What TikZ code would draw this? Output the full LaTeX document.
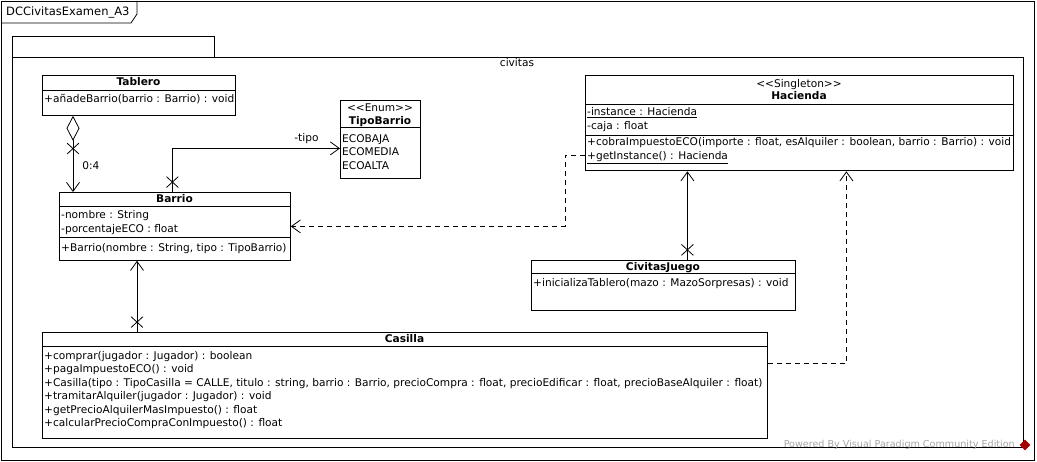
\documentclass[tikz,border=0pt]{standalone}
\usepackage{fontspec}
\setmainfont{DejaVu Sans}
\usepackage{tikz}
\usetikzlibrary{arrows.meta, positioning, shapes.misc, shapes.geometric, calc}
\newcommand{\umlfont}{\fontsize{10.6}{13.5}\selectfont}
\tikzstyle{frame} = [draw=black, line width=0.8pt]
\tikzstyle{classbox} = [rectangle, draw=black, line width=0.8pt, anchor=north west, inner sep=0pt]
\tikzstyle{classname} = [font=\umlfont\bfseries, inner sep=0pt, text height=8pt, text depth=2pt]
\tikzstyle{stereo} = [font=\umlfont, inner sep=0pt, text height=8pt, text depth=2pt]
\tikzstyle{members} = [font=\umlfont, anchor=west, inner sep=0pt, align=left]
\tikzstyle{crossmark} = [draw, cross out, minimum width=11pt, minimum height=10pt, inner sep=0pt, line width=0.8pt]
\tikzstyle{assoc} = [line width=0.8pt, -{Straight Barb[length=9pt,width=13pt]}]
\tikzstyle{aggr} = [line width=0.8pt, {Diamond[open,length=25pt,width=13pt]}-{Straight Barb[length=9pt,width=13pt]}]
\tikzstyle{dep} = [assoc, dash pattern=on 5pt off 4pt]
\begin{document}
\begin{tikzpicture}[x=1pt, y=-1pt]
\useasboundingbox (0,0) rectangle (1037,462);
% diagram frame and package
\draw[frame] (1,1) rectangle (1034,460);
\draw[frame] (1,23) -- (131,23) -- (137,14) -- (137,1);
\node[font=\fontsize{11.5}{14}\selectfont, anchor=west, inner sep=0pt] (frame-title) at (6,12) {DCCivitasExamen\_A3};
\draw[frame] (12,57) rectangle (1023,447);
\draw[frame] (12,57) -- (12,36) -- (214,36) -- (214,57);
\node[font=\umlfont, inner sep=0pt] (pkg-title) at (517,63) {civitas};

% classes
\node[classbox, minimum width=193pt, minimum height=40pt] (tablero) at (42,75) {};
\node[classbox, minimum width=80pt, minimum height=78pt] (tipobarrio) at (340,100) {};
\node[classbox, minimum width=231pt, minimum height=68pt] (barrio) at (59,192) {};
\node[classbox, minimum width=428pt, minimum height=95.5pt] (hacienda) at (585,75) {};
\node[classbox, minimum width=264pt, minimum height=50pt] (civitasjuego) at (531,260) {};
\node[classbox, minimum width=725pt, minimum height=106pt] (casilla) at (42,332) {};

% compartments
\draw[line width=0.8pt] ([yshift=-15pt]tablero.north west) -- ([yshift=-15pt]tablero.north east);
\draw[line width=0.8pt] ([yshift=-27pt]tipobarrio.north west) -- ([yshift=-27pt]tipobarrio.north east);
\draw[line width=0.8pt] ([yshift=-14.5pt]barrio.north west) -- ([yshift=-14.5pt]barrio.north east);
\draw[line width=0.8pt] ([yshift=-45pt]barrio.north west) -- ([yshift=-45pt]barrio.north east);
\draw[line width=0.8pt] ([yshift=-29.5pt]hacienda.north west) -- ([yshift=-29.5pt]hacienda.north east);
\draw[line width=0.8pt] ([yshift=-60.5pt]hacienda.north west) -- ([yshift=-60.5pt]hacienda.north east);
\draw[line width=0.8pt] ([yshift=-13pt]civitasjuego.north west) -- ([yshift=-13pt]civitasjuego.north east);
\draw[line width=0.8pt] ([yshift=-14pt]casilla.north west) -- ([yshift=-14pt]casilla.north east);

% texts
\node[classname] (tablero-name) at (138.5,83) {Tablero};
\node[members] (tablero-ops) at (44,99) {+añadeBarrio(barrio : Barrio) : void};

\node[stereo] (tipobarrio-st) at (380,109) {<{}<Enum>{}>};
\node[classname] (tipobarrio-name) at (380,122) {TipoBarrio};
\node[members] (tipobarrio-lit) at (342,152) {ECOBAJA\\ECOMEDIA\\ECOALTA};

\node[classname] (barrio-name) at (174.5,200) {Barrio};
\node[members] (barrio-attr) at (61,222.5) {-nombre : String\\-porcentajeECO : float};
\node[members] (barrio-ops) at (61,249) {+Barrio(nombre : String, tipo : TipoBarrio)};

\node[stereo] (hacienda-st) at (799,84.5) {<{}<Singleton>{}>};
\node[classname] (hacienda-name) at (799,97) {Hacienda};
\node[members] (hacienda-attr) at (587,119.5) {\underline{-instance : Hacienda}\\-caja : float};
\node[members] (hacienda-ops) at (587,150.5) {+cobraImpuestoECO(importe : float, esAlquiler : boolean, barrio : Barrio) : void\\\underline{+getInstance() : Hacienda}};

\node[classname] (civitasjuego-name) at (663,267.5) {CivitasJuego};
\node[members] (civitasjuego-ops) at (533,284) {+inicializaTablero(mazo : MazoSorpresas) : void};

\node[classname] (casilla-name) at (404.5,340) {Casilla};
\node[members] (casilla-ops) at (44,390) {+comprar(jugador : Jugador) : boolean\\
+pagaImpuestoECO() : void\\
+Casilla(tipo : TipoCasilla = CALLE, titulo : string, barrio : Barrio, precioCompra : float, precioEdificar : float, precioBaseAlquiler : float)\\
+tramitarAlquiler(jugador : Jugador) : void\\
+getPrecioAlquilerMasImpuesto() : float\\
+calcularPrecioCompraConImpuesto() : float};

% relations
\draw[aggr] ([xshift=31pt]tablero.south west) -- ([xshift=14pt]barrio.north west)
    node[crossmark, pos=0.43] (x-tablero) {}
    node[pos=0.66, right=9pt, font=\umlfont, inner sep=0pt] (m-tablero) {0:4};
\draw[assoc] ([xshift=-2.5pt]barrio.north) |- ([yshift=-9pt]tipobarrio.west)
    node[crossmark, pos=0.114] (x-tipo) {}
    node[pos=0.9, above=4pt, font=\umlfont, inner sep=0pt] (r-tipo) {-tipo};
\draw[dep] ([yshift=-32.25pt]hacienda.west) -- ++(-20,0) |- (barrio.east);
\draw[assoc] ([xshift=24pt]civitasjuego.north) coordinate (cj-top) -- (cj-top |- hacienda.south)
    node[crossmark, pos=0.114] (x-juego) {};
\draw[dep] ([yshift=22pt]casilla.east) -| ([xshift=47pt]hacienda.south);
\draw[assoc] ([xshift=95pt]casilla.north west) coordinate (cas-top) -- (cas-top |- barrio.south)
    node[crossmark, pos=0.139] (x-casilla) {};

% watermark
\node[font=\fontsize{9.6}{11}\selectfont, text=gray!70, anchor=east, inner sep=0pt] (watermark) at (1015,445) {Powered By Visual Paradigm Community Edition};
\node[diamond, fill=red!65!black, minimum size=11pt, inner sep=0pt] (vp-logo) at (1025,445) {};
\end{tikzpicture}
\end{document}
